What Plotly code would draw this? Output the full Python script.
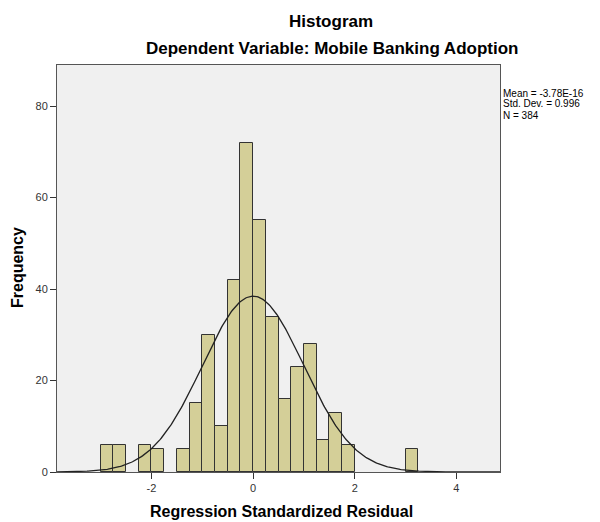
import numpy as np
import plotly.graph_objects as go

# Histogram data (bin left edges, width 0.25)
bin_left = [-3.0, -2.75, -2.25, -2.0, -1.5, -1.25, -1.0, -0.75, -0.5, -0.25,
            0.0, 0.25, 0.5, 0.75, 1.0, 1.25, 1.5, 1.75, 3.0]
counts = [6, 6, 6, 5, 5, 15, 30, 10, 42, 72, 55, 34, 16, 23, 28, 7, 13, 6, 5]
bin_width = 0.25

mean_val = -3.78e-16
std_val = 0.996
n_val = 384
stat_lines = ["Mean = -3.78E-16", "Std. Dev. = 0.996", "N = 384"]

x_ticks = [-2, 0, 2, 4]
y_ticks = [0, 20, 40, 60, 80]

centers = [b + bin_width / 2 for b in bin_left]

# fitted normal curve from the stated statistics
xc = np.linspace(-3.86, 4.86, 400)
yc = n_val * bin_width * np.exp(-0.5 * ((xc - mean_val) / std_val) ** 2) / (std_val * np.sqrt(2 * np.pi))

fig = go.Figure()
fig.add_trace(go.Bar(
    x=centers, y=counts, width=bin_width,
    marker=dict(color="#D4CF98", line=dict(color="#333333", width=1)),
    hoverinfo="x+y",
))
fig.add_trace(go.Scatter(
    x=xc, y=yc, mode="lines",
    line=dict(color="#222222", width=1.3),
    hoverinfo="skip",
))

font_family = "Liberation Sans, Arial, sans-serif"

L, R, T, B = 57, 100, 65, 50
W, H = 600, 522

fig.update_layout(
    width=W, height=H,
    margin=dict(l=L, r=R, t=T, b=B, autoexpand=False),
    paper_bgcolor="white",
    plot_bgcolor="#F0F0F0",
    showlegend=False,
    bargap=0,
    font=dict(family=font_family, color="#333333", size=11),
    xaxis=dict(
        range=[-3.86, 4.86], tickvals=x_ticks, ticktext=[str(v) for v in x_ticks],
        ticks="outside", ticklen=6, tickcolor="#333333",
        showgrid=False, zeroline=False, automargin=False,
        showline=True, linecolor="#555555", linewidth=1, mirror=True,
        tickfont=dict(size=11, color="#333333"),
    ),
    yaxis=dict(
        range=[0, 89], tickvals=y_ticks, ticktext=[str(v) for v in y_ticks],
        ticks="outside", ticklen=6, tickcolor="#333333",
        showgrid=False, zeroline=False, automargin=False,
        showline=True, linecolor="#555555", linewidth=1, mirror=True,
        tickfont=dict(size=11, color="#333333"),
    ),
)

pw = W - L - R
ph = H - T - B


def px(x):
    return (x - L) / pw


def py(y):
    return (H - y - B) / ph


def note(text, x, y, size, xanchor="center", angle=0):
    fig.add_annotation(text=text, x=px(x), y=py(y), xref="paper", yref="paper",
                       showarrow=False, xanchor=xanchor, yanchor="middle", textangle=angle,
                       borderpad=0,
                       font=dict(size=size, color="black", family=font_family))


note("<b>Histogram</b>", 331, 21, 17)
note("<b>Dependent Variable: Mobile Banking Adoption</b>", 332, 49, 17)
note("<b>Regression Standardized Residual</b>", 281, 512, 16)
note("<b>Frequency</b>", 17, 268, 16, angle=-90)
for i, s in enumerate(stat_lines):
    note(s, 502, 93 + 11 * i, 10, xanchor="left")

fig.write_html("out.html",
               config={"displayModeBar": False},
               post_script="document.body.style.margin='0px';document.body.style.overflow='hidden';")
